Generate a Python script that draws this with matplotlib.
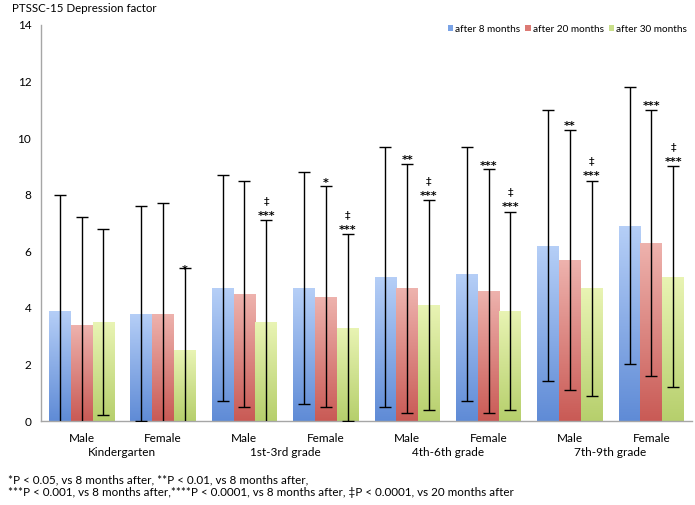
import numpy as np
import matplotlib
matplotlib.use("Agg")
import matplotlib.pyplot as plt
from matplotlib.patches import Patch
from matplotlib.colors import LinearSegmentedColormap

plt.rcParams['font.family'] = ['Lato', 'DejaVu Sans']

# ------------------------------------------------------------
# Dados
# ------------------------------------------------------------
sexo = ["Male", "Female"] * 4
series_anos = ["Kindergarten", "1st-3rd grade", "4th-6th grade", "7th-9th grade"]
series_nomes = ["after 8 months", "after 20 months", "after 30 months"]

media_8m = [3.9, 3.8, 4.7, 4.7, 5.1, 5.2, 6.2, 6.9]
media_20m = [3.4, 3.8, 4.5, 4.4, 4.7, 4.6, 5.7, 6.3]
media_30m = [3.5, 2.5, 3.5, 3.3, 4.1, 3.9, 4.7, 5.1]

dp_8m = [4.1, 3.8, 4.0, 4.1, 4.6, 4.5, 4.8, 4.9]
dp_20m = [3.8, 3.9, 4.0, 3.9, 4.4, 4.3, 4.6, 4.7]
dp_30m = [3.3, 2.9, 3.6, 3.3, 3.7, 3.5, 3.8, 3.9]

# marcas de significancia: (grupo, serie, asteriscos, dupla cruz)
marcas = [
    (1, 2, "*", False),
    (2, 2, "***", True),
    (3, 1, "*", False), (3, 2, "***", True),
    (4, 1, "**", False), (4, 2, "***", True),
    (5, 1, "***", False), (5, 2, "***", True),
    (6, 1, "**", False), (6, 2, "***", True),
    (7, 1, "***", False), (7, 2, "***", True),
]

rodape = ("*P < 0.05, vs 8 months after, **P < 0.01, vs 8 months after,\n"
          "***P < 0.001, vs 8 months after,****P < 0.0001, vs 8 months after, "
          "‡P < 0.0001, vs 20 months after")

# ------------------------------------------------------------
# Figura
# ------------------------------------------------------------
cores = [("#b6cff7", "#5f8bd6"), ("#eeb3ae", "#c95a55"), ("#e9f4b4", "#b6cf6c")]
cor_legenda = ["#7aa3e6", "#dc7a74", "#c9df8a"]

fig = plt.figure(figsize=(6.95, 5.05), dpi=100)
ax = fig.add_axes([41 / 695, 84 / 505, 651 / 695, 396 / 505])

x = np.arange(len(sexo))
largura = 0.267
medias = [media_8m, media_20m, media_30m]
dps = [dp_8m, dp_20m, dp_30m]
gradiente = np.linspace(0, 1, 256).reshape(-1, 1)

for i in range(3):
    pos = x + (i - 1) * largura
    barras = ax.bar(pos, medias[i], largura, color=cores[i][1], linewidth=0, zorder=2)
    cmap = LinearSegmentedColormap.from_list("g%d" % i, [cores[i][1], cores[i][0]])
    for b in barras:
        x0, w, h = b.get_x(), b.get_width(), b.get_height()
        im = ax.imshow(gradiente, cmap=cmap, origin="lower", aspect="auto",
                       extent=(x0, x0 + w, 0, h), zorder=2.5)
        im.set_clip_path(b)
    ax.errorbar(pos, medias[i], yerr=dps[i], fmt="none", ecolor="black",
                elinewidth=1.0, capsize=4.5, capthick=1.0, zorder=3)

px_pt = 0.72  # 1 pixel em pontos (dpi 100)
for g, s, estrelas, cruz in marcas:
    px = x[g] + (s - 1) * largura
    topo = medias[s][g] + dps[s][g]
    if g == 1:
        dy = -4.5
    elif cruz:
        dy = 1.5
    else:
        dy = 0.5
    ax.annotate(estrelas, (px, topo), xytext=(0, dy * px_pt), textcoords="offset points",
                ha="center", va="baseline", fontsize=8, family="DejaVu Sans",
                fontweight="bold", zorder=4)
    if cruz:
        ax.annotate("‡", (px, topo), xytext=(0, 16 * px_pt), textcoords="offset points",
                    ha="center", va="baseline", fontsize=8, family="DejaVu Sans",
                    zorder=4)

ax.set_xlim(-0.5, len(sexo) - 0.5)
ax.set_ylim(0, 14)
ax.set_yticks(range(0, 15, 2))
ax.set_xticks(x)
ax.set_xticklabels(sexo, fontsize=8.5)
ax.tick_params(axis="both", length=0, labelsize=8.5)
ax.tick_params(axis="x", pad=9)
ax.tick_params(axis="y", pad=7)

for j, nome in enumerate(series_anos):
    ax.text(2 * j + 0.5, -0.079, nome, transform=ax.get_xaxis_transform(),
            ha="center", va="center", fontsize=8.5)

for lado in ["top", "right"]:
    ax.spines[lado].set_visible(False)
for lado in ["left", "bottom"]:
    ax.spines[lado].set_color("#a6a6a6")
    ax.spines[lado].set_linewidth(1.0)

fig.text(12 / 695, 1 - 8 / 505, "PTSSC-15 Depression factor", fontsize=8.3,
         ha="left", va="center")

handles = [Patch(facecolor=c, edgecolor="none") for c in cor_legenda]
fig.legend(handles, series_nomes, loc="center right", ncol=3, frameon=False,
           bbox_to_anchor=(691 / 695, 1 - 29 / 505), fontsize=7.2,
           handlelength=0.55, handleheight=0.55, handletextpad=0.2,
           columnspacing=0.5, borderaxespad=0)

fig.text(8 / 695, 1 - 474 / 505, rodape, fontsize=8.4, ha="left", va="top",
         linespacing=1.2)

fig.savefig("out.png", dpi=100)
